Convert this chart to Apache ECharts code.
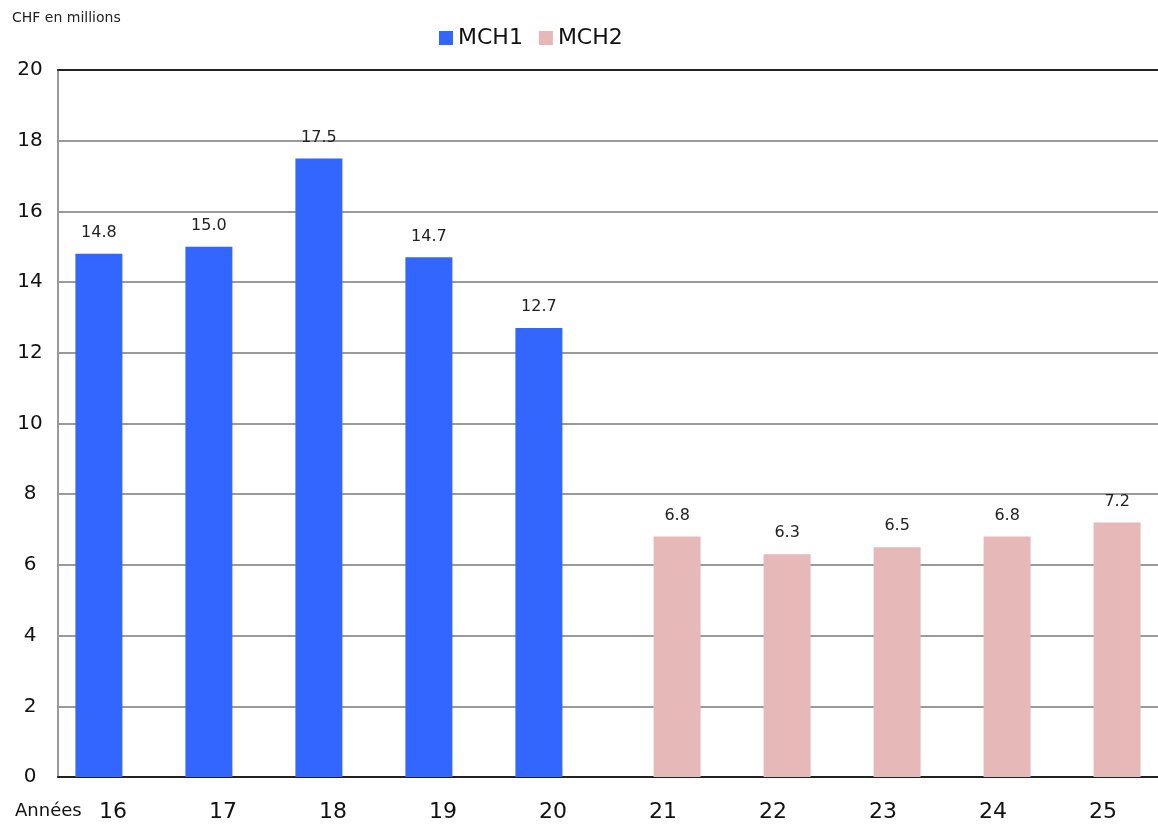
<!DOCTYPE html>
<html>
<head>
<meta charset="utf-8">
<script src="https://cdn.jsdelivr.net/npm/echarts@6/dist/echarts.min.js"></script>
<style>
  html, body { margin: 0; padding: 0; background: #fff; }
  #chart { width: 1158px; height: 827px; }
</style>
</head>
<body>
<div id="chart"></div>
<script>
// Years (two-digit) and the two programme series
const years = ['16', '17', '18', '19', '20', '21', '22', '23', '24', '25'];
const mch1 = [14.8, 15.0, 17.5, 14.7, 12.7, null, null, null, null, null];
const mch2 = [null, null, null, null, null, 6.8, 6.3, 6.5, 6.8, 7.2];
const yTicks = { min: 0, max: 20, interval: 2 };

const FONT = 'DejaVu Sans, Verdana, sans-serif';

const chart = echarts.init(document.getElementById('chart'));

const labelStyle = {
  show: true,
  position: 'top',
  distance: 13,
  color: '#222',
  fontSize: 16,
  fontFamily: FONT,
  formatter: p => p.value == null ? '' : p.value.toFixed(1)
};

chart.setOption({
  animation: false,
  textStyle: { fontFamily: FONT },
  legend: {
    top: 22,
    left: 434,
    itemWidth: 14,
    itemHeight: 14,
    itemGap: 16,
    icon: 'rect',
    textStyle: { fontSize: 22, color: '#111', fontFamily: FONT },
    data: ['MCH1', 'MCH2']
  },
  graphic: [
    { type: 'text', left: 12, top: 11, style: { text: 'CHF en millions', fontSize: 14, fill: '#222', fontFamily: FONT } },
    { type: 'text', left: 15, top: 802, style: { text: 'Années', fontSize: 18, fill: '#111', fontFamily: FONT } }
  ],
  grid: { left: 58, top: 70, width: 1103, height: 707 },
  xAxis: [
    {
      type: 'category',
      data: years,
      axisLine: { lineStyle: { color: '#222', width: 2 } },
      axisTick: { show: false },
      axisLabel: { fontSize: 22, color: '#111', margin: 24, fontFamily: FONT }
    },
    {
      type: 'category',
      position: 'top',
      data: years,
      axisLine: { show: true, lineStyle: { color: '#222', width: 2 } },
      axisTick: { show: false },
      axisLabel: { show: false }
    }
  ],
  yAxis: {
    type: 'value',
    min: yTicks.min,
    max: yTicks.max,
    interval: yTicks.interval,
    axisLine: { show: true, lineStyle: { color: '#999', width: 2 } },
    axisTick: { show: false },
    axisLabel: { fontSize: 20, color: '#111', margin: 28, align: 'center', fontFamily: FONT },
    splitLine: { lineStyle: { color: '#9a9a9a', width: 2 } }
  },
  series: [
    {
      name: 'MCH1',
      type: 'bar',
      data: mch1,
      barWidth: 47,
      barGap: '-40%',
      itemStyle: { color: '#3366FF' },
      label: labelStyle
    },
    {
      name: 'MCH2',
      type: 'bar',
      data: mch2,
      barWidth: 47,
      itemStyle: { color: '#E6B8B7' },
      label: labelStyle
    }
  ]
});
</script>
</body>
</html>
